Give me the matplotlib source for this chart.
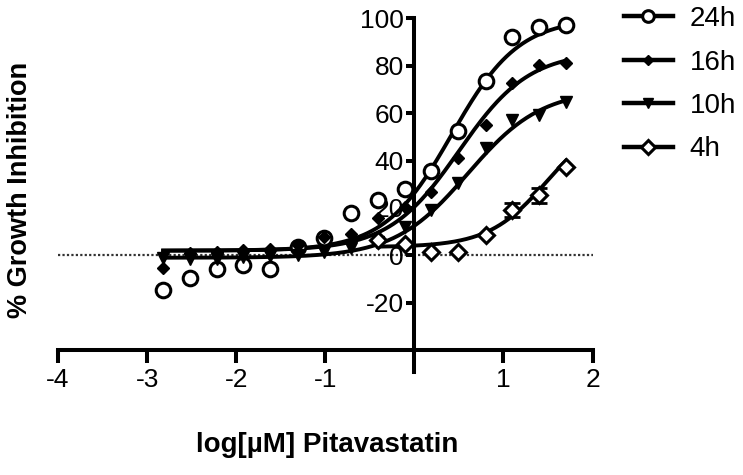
import matplotlib
matplotlib.use('Agg')
import matplotlib.pyplot as plt
from matplotlib.lines import Line2D
import numpy as np

plt.rcParams['font.family'] = ['Liberation Sans', 'DejaVu Sans']

# log[uM] concentrations (2-fold dilutions from 50 uM)
log_conc = [-2.82, -2.52, -2.22, -1.92, -1.62, -1.31, -1.01, -0.71,
            -0.41, -0.11, 0.19, 0.49, 0.80, 1.10, 1.40, 1.70]
inhib_24h = [-14.8, -9.5, -5.8, -4.2, -5.6, 3.5, 7.5, 17.7,
             23.4, 28.2, 35.4, 52.3, 73.7, 92.0, 96.2, 97.2]
inhib_16h = [-5.4, 1.0, 1.5, 2.1, 2.8, 4.3, 7.8, 9.2,
             15.6, 20.6, 26.7, 41.0, 55.0, 72.6, 80.3, 81.3]
inhib_10h = [-1.0, -1.5, -1.5, -0.8, -0.3, 0.3, 1.5, 3.0,
             5.7, 11.8, 19.2, 30.4, 45.2, 57.1, 59.2, 64.9]

log_conc_4h = [-0.41, -0.11, 0.19, 0.49, 0.80, 1.10, 1.40, 1.70]
inhib_4h = [6.5, 5.0, 1.3, 1.3, 8.8, 19.0, 25.3, 37.4]
err_4h = [0, 0, 0, 0, 0, 3.0, 3.0, 0]

# fitted curves: bottom, top, logEC50, hill slope
fit_24h = (2.0, 100.0, 0.42, 1.15)
fit_16h = (2.0, 86.0, 0.50, 1.1)
fit_10h = (-1.0, 70.0, 0.60, 1.05)
fit_4h = (3.5, 60.0, 1.50, 1.3)


def logistic(x, bottom, top, logec50, hill):
    return bottom + (top - bottom) / (1 + 10 ** (hill * (logec50 - x)))


fig = plt.figure(figsize=(7.43, 4.75), dpi=100)
ax = fig.add_axes([0.0781, 0.2627, 0.7194, 0.6988])

ax.axhline(0, color='#333333', lw=1.6, ls=(0, (1, 1)), zorder=1)

series = [
    ('24h', log_conc, inhib_24h, fit_24h, dict(marker='o', ms=10.5, mfc='white', mew=2.2)),
    ('16h', log_conc, inhib_16h, fit_16h, dict(marker='D', ms=6, mfc='black', mew=1.0)),
    ('10h', log_conc, inhib_10h, fit_10h, dict(marker='v', ms=9, mfc='black', mew=1.0)),
    ('4h', log_conc_4h, inhib_4h, fit_4h, dict(marker='D', ms=8.5, mfc='white', mew=2.2)),
]

handles = []
for name, xs, ys, fit, mk in series:
    xx = np.linspace(min(xs), max(xs), 300)
    ax.plot(xx, logistic(xx, *fit), color='black', lw=2.8, zorder=2)
    ax.plot(xs, ys, ls='none', color='black', mec='black', zorder=3,
            clip_on=False, **mk)
    handles.append(Line2D([], [], color='black', lw=3.2, mec='black',
                          **{k: (v * 0.8 if k == 'ms' else v) for k, v in mk.items()}))

ax.errorbar(log_conc_4h, inhib_4h, yerr=err_4h, fmt='none', ecolor='black',
            elinewidth=2, capsize=6, capthick=2, zorder=2.5)

ax.set_xlim(-4, 2)
ax.set_ylim(-40, 100)

for s in ['top', 'right']:
    ax.spines[s].set_visible(False)
ax.spines['left'].set_position(('data', 0))
ax.spines['left'].set_bounds(-49, 100)
ax.spines['bottom'].set_bounds(-4, 2)
for s in ['left', 'bottom']:
    ax.spines[s].set_linewidth(2.9)

ax.set_xticks([-4, -3, -2, -1, 1, 2])
ax.set_xticklabels(['-4', '-3', '-2', '-1', '1', '2'])
ax.set_yticks([-20, 0, 20, 40, 60, 80, 100])
ax.set_yticklabels(['-20', '0', '20', '40', '60', '80', '100'])
ax.tick_params(axis='x', direction='out', length=9, width=2.9, pad=4, labelsize=19)
ax.tick_params(axis='y', direction='out', length=6, width=2.9, pad=1.5, labelsize=19)

fig.text(327 / 743, 1 - 445 / 475, 'log[µM] Pitavastatin', ha='center', va='center',
         fontsize=20, fontweight='bold')
fig.text(20 / 743, 1 - 190 / 475, '% Growth Inhibition', ha='center', va='center',
         rotation=90, fontsize=19.5, fontweight='bold')

fig.legend(handles, [s[0] for s in series], loc='upper left',
           bbox_to_anchor=(624 / 743, 1 - 6 / 475), frameon=False,
           fontsize=20, handlelength=1.75, handletextpad=0.62,
           labelspacing=0.63, borderpad=0, borderaxespad=0)

fig.savefig('out.png', dpi=100)
